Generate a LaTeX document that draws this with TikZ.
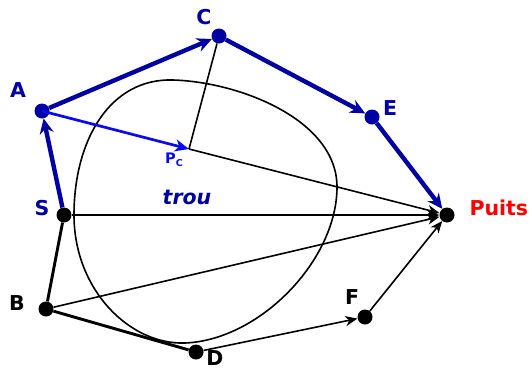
\documentclass[tikz,border=0pt]{standalone}
\usepackage{fontspec}
\setmainfont{DejaVu Sans}
\usetikzlibrary{arrows.meta}
\definecolor{navy}{RGB}{0,0,165}
\definecolor{pblue}{RGB}{10,10,240}
\definecolor{pred}{RGB}{255,0,0}
\begin{document}
\begin{tikzpicture}[x=1pt,y=-1pt,
  dot/.style={circle,fill=#1,inner sep=0pt,minimum size=15pt},
  dot/.default=black,
  lab/.style={font=\fontsize{20.5}{22}\selectfont\bfseries,text=navy},
  thickarrow/.style={navy,line width=4.4pt,-{Stealth[length=15pt,width=14pt,inset=5pt]}},
  thinarrow/.style={black,line width=1.6pt,-{Stealth[length=12pt,width=10pt,inset=3.5pt]}},
  thinline/.style={black,line width=1.6pt},
  medline/.style={black,line width=2.9pt},
  bluearrow/.style={pblue,line width=2.7pt,-{Stealth[length=14pt,width=12pt,inset=4pt]}}
]
\useasboundingbox (0,0) rectangle (529,370);
% hole
\draw[line width=1.6pt] (173,80) .. controls (110,78) and (74,140) .. (74,215)
  .. controls (74,290) and (130,345) .. (185,343)
  .. controls (260,340) and (337,260) .. (337,187)
  .. controls (337,120) and (240,82) .. (173,80) -- cycle;
% nodes
\node[dot=navy] (C) at (219,36) {};
\node[dot=navy] (A) at (42,111) {};
\node[dot=navy] (E) at (372,117) {};
\coordinate (Pc) at (189,149);
\node[dot] (S) at (64,215) {};
\node[dot] (P) at (447,215) {};
\node[dot] (B) at (46,309) {};
\node[dot] (D) at (196,352) {};
\node[dot] (F) at (365,317) {};
% labels
\node[lab] (lC) at (204,17) {C};
\node[lab] (lA) at (18,90) {A};
\node[lab] (lE) at (390,108) {E};
\node[lab] (lS) at (42,208) {S};
\node[lab,text=black] (lB) at (17,303) {B};
\node[lab,text=black] (lD) at (215,358) {D};
\node[lab,text=black] (lF) at (352,297) {F};
\node[lab,text=pred,anchor=west] (lP) at (466,208) {Puits};
\node[text=pblue,font=\fontsize{14.5}{15}\selectfont\bfseries] (lPc) at (174,160) {P\raisebox{-3.5pt}{\fontsize{9.5}{10}\selectfont C}};
\node[lab,font=\fontsize{20.5}{22}\selectfont\bfseries\itshape] (trou) at (187,197) {trou};
% thin connectors
\draw[thinline] (C) -- (Pc);
\draw[thinarrow] (Pc) -- (P);
\draw[thinarrow] (S) -- (P);
\draw[thinarrow] (B) -- (P);
\draw[thinarrow] (D) -- (F);
\draw[thinarrow] (F) -- (P);
\draw[medline] (S) -- (B);
\draw[medline] (B) -- (D);
% blue
\draw[bluearrow] (A.center) -- (Pc);
\draw[thickarrow] (A) -- (C);
\draw[thickarrow] (C) -- (E);
\draw[thickarrow] (E) -- (P);
\draw[thickarrow] (S) -- (A);
\end{tikzpicture}
\end{document}
